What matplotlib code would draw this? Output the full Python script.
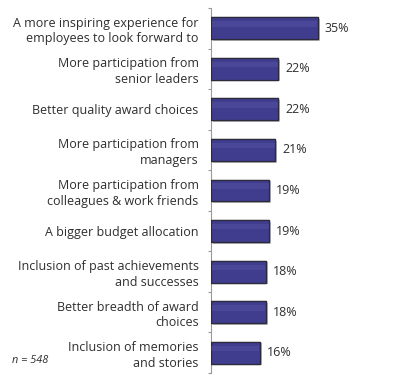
import matplotlib
matplotlib.use("Agg")
import matplotlib.pyplot as plt
import matplotlib.patheffects as pe
import numpy as np

plt.rcParams['font.family'] = ['Open Sans', 'DejaVu Sans']

categories = [
    "A more inspiring experience for\nemployees to look forward to",
    "More participation from\nsenior leaders",
    "Better quality award choices",
    "More participation from\nmanagers",
    "More participation from\ncolleagues & work friends",
    "A bigger budget allocation",
    "Inclusion of past achievements\nand successes",
    "Better breadth of award\nchoices",
    "Inclusion of memories\nand stories",
]
values = [35, 22, 22, 21, 19, 19, 18, 18, 16]
value_labels = [f"{v}%" for v in values]
note = "n = 548"

bar_color = '#403d8f'
edge_color = '#2b2b3a'
text_color = '#2e2e2e'

fig = plt.figure(figsize=(4.0, 3.83), dpi=100)
ax = fig.add_axes([0.5275, 0.026, 0.4725, 0.953])

y = np.arange(len(categories))
bars = ax.barh(y, values, height=0.54, color=bar_color, edgecolor=edge_color,
               linewidth=0.9, zorder=3)
for b in bars:
    b.set_path_effects([pe.withSimplePatchShadow(offset=(1.2, -1.2), shadow_rgbFace='#999999', alpha=0.6),
                        pe.Normal()])
    # soft lighter band along the top of each bar
    x0, yb = b.get_x(), b.get_y()
    w, h = b.get_width(), b.get_height()
    ax.barh(yb + h * 0.3, w * 0.98, height=h * 0.25, left=x0 + w * 0.01,
            color='#6461b0', alpha=0.3, linewidth=0, zorder=4)

for yi, v, lab in zip(y, values, value_labels):
    ax.annotate(lab, (v, yi), xytext=(5, 0), textcoords='offset points',
                va='center', ha='left', fontsize=9, color=text_color)

ax.set_xlim(0, 61.8)
ax.set_ylim(len(categories) - 0.5, -0.5)

ax.set_yticks(y)
ax.set_yticklabels(categories, fontsize=9, color=text_color, linespacing=1.25)
ax.tick_params(axis='y', which='major', length=0, pad=9)
ax.set_yticks(np.arange(len(categories) + 1) - 0.5, minor=True)
ax.tick_params(axis='y', which='minor', length=2.5, width=0.8, color='#9a9a9a', direction='out')
ax.set_xticks([])

for s in ['top', 'right', 'bottom']:
    ax.spines[s].set_visible(False)
ax.spines['left'].set_color('#9a9a9a')
ax.spines['left'].set_linewidth(0.8)

fig.text(0.03, 0.06, note, fontsize=7.8, style='italic', color=text_color, va='center', ha='left')

fig.savefig("out.png", dpi=100)
